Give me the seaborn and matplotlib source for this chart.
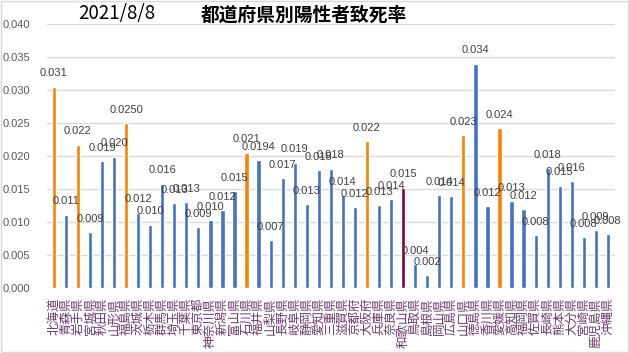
import matplotlib
matplotlib.use("Agg")
import matplotlib.pyplot as plt
import seaborn as sns
import pandas as pd
from matplotlib.patches import Rectangle

# prefectures in JIS order
prefectures = [
    "北海道", "青森県", "岩手県", "宮城県", "秋田県", "山形県", "福島県",
    "茨城県", "栃木県", "群馬県", "埼玉県", "千葉県", "東京都", "神奈川県",
    "新潟県", "富山県", "石川県", "福井県", "山梨県", "長野県", "岐阜県",
    "静岡県", "愛知県", "三重県", "滋賀県", "京都府", "大阪府", "兵庫県",
    "奈良県", "和歌山県", "鳥取県", "島根県", "岡山県", "広島県", "山口県",
    "徳島県", "香川県", "愛媛県", "高知県", "福岡県", "佐賀県", "長崎県",
    "熊本県", "大分県", "宮崎県", "鹿児島県", "沖縄県",
]

# fatality rate of positive cases
rates = [
    0.0305, 0.0111, 0.0217, 0.0085, 0.0192, 0.0199, 0.0250,
    0.0114, 0.0096, 0.0158, 0.0129, 0.0130, 0.0092, 0.0103,
    0.0118, 0.0147, 0.0205, 0.0194, 0.0073, 0.0166, 0.0190,
    0.0127, 0.0179, 0.0181, 0.0141, 0.0123, 0.0223, 0.0126,
    0.0135, 0.0152, 0.0036, 0.0020, 0.0141, 0.0139, 0.0232,
    0.0340, 0.0124, 0.0242, 0.0132, 0.0120, 0.0080, 0.0182,
    0.0155, 0.0162, 0.0077, 0.0088, 0.0082,
]

# data labels as shown on the chart
rate_labels = [
    "0.031", "0.011", "0.022", "0.009", "0.019", "0.020", "0.0250",
    "0.012", "0.010", "0.016", "0.013", "0.013", "0.009", "0.010",
    "0.012", "0.015", "0.021", "0.0194", "0.007", "0.017", "0.019",
    "0.013", "0.018", "0.018", "0.014", "0.012", "0.022", "0.013",
    "0.014", "0.015", "0.004", "0.002", "0.014", "0.014", "0.023",
    "0.034", "0.012", "0.024", "0.013", "0.012", "0.008", "0.018",
    "0.015", "0.016", "0.008", "0.009", "0.008",
]

# highlight groups
orange_prefs = ["北海道", "岩手県", "福島県", "石川県", "大阪府", "山口県", "愛媛県"]
maroon_prefs = ["和歌山県"]

BLUE = "#4472C4"
ORANGE = "#FF8000"
MAROON = "#80003F"

df = pd.DataFrame({"pref": prefectures, "rate": rates, "label": rate_labels})
bar_colors = [ORANGE if p in orange_prefs else MAROON if p in maroon_prefs else BLUE
              for p in prefectures]

sns.set_theme(style="white")
plt.rcParams['font.family'] = ['Noto Sans CJK JP', 'DejaVu Sans']

fig = plt.figure(figsize=(6.29, 3.53), dpi=100)
ax = fig.add_axes([0.075, 0.184, 0.902, 0.748])

sns.barplot(data=df, x="pref", y="rate", hue="pref", palette=bar_colors,
            legend=False, width=0.35, ax=ax, saturation=1)

for i, (v, lab) in enumerate(zip(rates, rate_labels)):
    ax.annotate(lab, (i, v), xytext=(0, 6), textcoords="offset points",
                ha="center", va="bottom", fontsize=8, color="#404040",
                family=['Liberation Sans', 'DejaVu Sans'])

ax.set_ylim(0, 0.04)
ax.set_xlim(-0.55, 46.55)
ax.set_yticks([i * 0.005 for i in range(9)])
ax.set_yticklabels([f"{i * 0.005:.3f}" for i in range(9)],
                   fontsize=8, color="#595959", family=['Liberation Sans', 'DejaVu Sans'])
ax.yaxis.grid(True, color="#D9D9D9", linewidth=1)
ax.set_axisbelow(True)
ax.tick_params(axis="both", length=0)
ax.tick_params(axis="y", pad=12)
ax.set_xticks(range(len(prefectures)))
ax.set_xticklabels(prefectures, rotation=90, fontsize=9, color="#6E3A6E")
ax.tick_params(axis="x", pad=7)
ax.set_xlabel("")
ax.set_ylabel("")
for s in ax.spines.values():
    s.set_visible(False)

fig.text(0.185, 0.963, "2021/8/8", ha="center", va="center", fontsize=13.5, color="black")
fig.text(0.483, 0.957, "都道府県別陽性者致死率", ha="center", va="center",
         fontsize=13.5, color="black", fontweight="bold")

fig.patches.append(Rectangle((0.001, 0.002), 0.997, 0.995, transform=fig.transFigure,
                             fill=False, edgecolor="#D9D9D9", linewidth=1))

fig.savefig("out.png", dpi=100)
